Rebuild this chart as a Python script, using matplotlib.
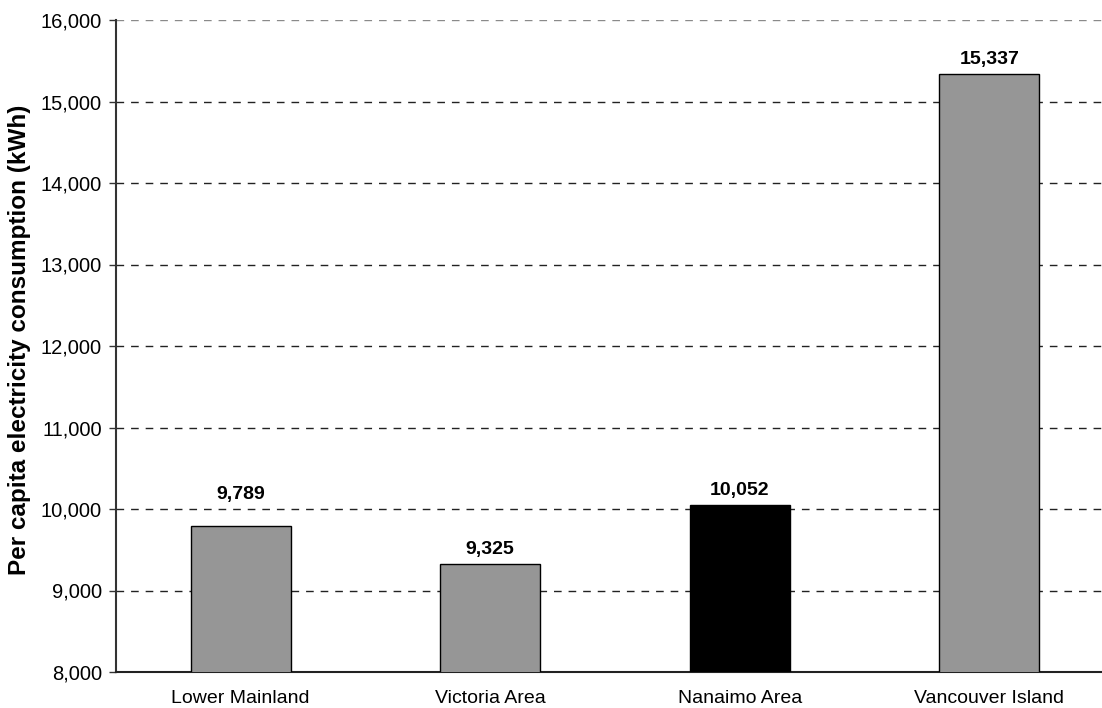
import matplotlib
matplotlib.use("Agg")
import matplotlib.pyplot as plt
from matplotlib.ticker import FuncFormatter

regions = ["Lower Mainland", "Victoria Area", "Nanaimo Area", "Vancouver Island"]
consumption_kwh = [9789, 9325, 10052, 15337]
highlight = "Nanaimo Area"
y_ticks = [8000, 9000, 10000, 11000, 12000, 13000, 14000, 15000, 16000]

plt.rcParams["font.family"] = ["Liberation Sans", "DejaVu Sans"]

W, H = 1102, 708
fig = plt.figure(figsize=(W / 100, H / 100), dpi=100)
# plot area runs past the right edge of the canvas
left_px, right_px, top_px, bottom_px = 116, 1114, 20, 672
ax_w, ax_h = right_px - left_px, bottom_px - top_px
ax = fig.add_axes([left_px / W, 1 - bottom_px / H, ax_w / W, ax_h / H])

x = list(range(len(regions)))
colors = ["#000000" if r == highlight else "#969696" for r in regions]
bars = ax.bar(x, consumption_kwh, width=0.4, color=colors,
              edgecolor="black", linewidth=1, zorder=3)

ax.set_xlim(-0.5, len(regions) - 0.5)
ax.set_ylim(y_ticks[0], y_ticks[-1])
ax.set_yticks(y_ticks)
ax.yaxis.set_major_formatter(FuncFormatter(lambda v, p: f"{int(v):,}"))
ax.set_xticks(x)
ax.set_xticklabels(regions, fontsize=14)

ax.grid(axis="y", linestyle=(0, (5.5, 5)), color="#222222", linewidth=1, zorder=1)
ax.get_ygridlines()[-1].set_color("#8a8a8a")
ax.tick_params(axis="y", length=5, width=1, color="#333333", labelsize=14.5, pad=5)
ax.tick_params(axis="x", length=0, pad=13)

for side in ["top", "right"]:
    ax.spines[side].set_visible(False)
ax.spines["left"].set_color("#333333")
ax.spines["left"].set_linewidth(1.5)
ax.spines["bottom"].set_color("#222222")
ax.spines["bottom"].set_linewidth(1.5)

ax.set_ylabel("Per capita electricity consumption (kWh)", fontsize=17.5,
              fontweight="bold")
ax.yaxis.set_label_coords((31 - left_px) / ax_w, (bottom_px - 340) / ax_h)

# value labels; the first one sits above the 10,000 gridline
extra_lift = {"Lower Mainland": 12}
for r, b, v in zip(regions, bars, consumption_kwh):
    ax.annotate(f"{v:,}", (b.get_x() + b.get_width() / 2, v),
                xytext=(0, 4.5 + extra_lift.get(r, 0)), textcoords="offset points",
                ha="center", va="bottom", fontsize=14, fontweight="bold")

fig.savefig("out.png", dpi=100)
